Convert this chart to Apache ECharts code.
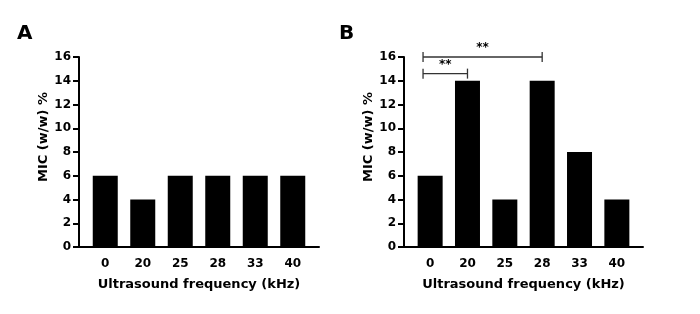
<!DOCTYPE html>
<html>
<head>
<meta charset="utf-8">
<script src="https://cdn.jsdelivr.net/npm/echarts@6/dist/echarts.min.js"></script>
<style>html,body{margin:0;padding:0;background:#fff;}#c{width:700px;height:314px;}</style>
</head>
<body>
<div id="c"></div>
<script>
const categories = ['0', '20', '25', '28', '33', '40'];
const valuesA = [6, 4, 6, 6, 6, 6];
const valuesB = [6, 14, 4, 14, 8, 4];
const yTicks = [0, 2, 4, 6, 8, 10, 12, 14, 16];
const panelLabels = ['A', 'B'];
const xTitle = 'Ultrasound frequency (kHz)';
const yTitle = 'MIC (w/w) %';
// significance comparisons in panel B: [fromIndex, toIndex, level, text]
const bracketFrom = [0, 0];
const bracketTo = [1, 3];
const bracketLevel = [14.6, 16];
const bracketText = ['**', '**'];

const FONT = 'DejaVu Sans';
const chart = echarts.init(document.getElementById('c'), null, {renderer: 'canvas'});

function xAxisDef(idx) {
  return {
    type: 'value', gridIndex: idx, min: -0.7, max: 5.7,
    axisLine: {show: true, onZero: false, lineStyle: {color: '#000', width: 2}},
    axisTick: {show: false},
    splitLine: {show: false},
    axisLabel: {
      customValues: categories.map((c, i) => i),
      formatter: v => categories[Math.round(v)],
      color: '#000', fontFamily: FONT, fontWeight: 'bold', fontSize: 12, margin: 11
    },
    name: xTitle, nameLocation: 'middle', nameGap: 31,
    nameTextStyle: {color: '#000', fontFamily: FONT, fontWeight: 'bold', fontSize: 13}
  };
}
function yAxisDef(idx) {
  return {
    type: 'value', gridIndex: idx, position: 'left',
    min: yTicks[0], max: yTicks[yTicks.length - 1], interval: 2,
    axisLine: {show: true, onZero: false, lineStyle: {color: '#000', width: 2}},
    axisTick: {show: true, inside: false, length: 6, lineStyle: {color: '#000', width: 2}},
    splitLine: {show: false},
    axisLabel: {color: '#000', fontFamily: FONT, fontWeight: 'bold', fontSize: 12, margin: 8},
    name: yTitle, nameLocation: 'middle', nameGap: 28, nameRotate: 90,
    nameTextStyle: {color: '#000', fontFamily: FONT, fontWeight: 'bold', fontSize: 13, padding: [0, 0, 0, 30]}
  };
}

const bracketData = bracketFrom.map((f, i) => [f - 0.19, bracketTo[i], bracketLevel[i], bracketText[i]]);

const option = {
  animation: false,
  title: [
    {text: panelLabels[0], left: 12, top: 19, textStyle: {fontFamily: FONT, fontWeight: 'bold', fontSize: 20, color: '#000'}},
    {text: panelLabels[1], left: 334, top: 19, textStyle: {fontFamily: FONT, fontWeight: 'bold', fontSize: 20, color: '#000'}}
  ],
  grid: [
    {left: 79, width: 240, top: 57, height: 190},
    {left: 404, width: 239, top: 57, height: 190}
  ],
  xAxis: [xAxisDef(0), xAxisDef(1)],
  yAxis: [yAxisDef(0), yAxisDef(1)],
  series: [
    {type: 'bar', xAxisIndex: 0, yAxisIndex: 0, barWidth: 25,
     itemStyle: {color: '#000'}, data: valuesA.map((v, i) => [i, v])},
    {type: 'bar', xAxisIndex: 1, yAxisIndex: 1, barWidth: 25,
     itemStyle: {color: '#000'}, data: valuesB.map((v, i) => [i, v])},
    {type: 'custom', xAxisIndex: 1, yAxisIndex: 1, clip: false,
     encode: {x: [0, 1], y: 2},
     data: bracketData,
     renderItem: function (params, api) {
       const p1 = api.coord([api.value(0), api.value(2)]);
       const p2 = api.coord([api.value(1), api.value(2)]);
       const st = {stroke: '#333', lineWidth: 1.3};
       const h = 5;
       return {
         type: 'group',
         children: [
           {type: 'line', shape: {x1: p1[0], y1: p1[1], x2: p2[0], y2: p2[1]}, style: st},
           {type: 'line', shape: {x1: p1[0], y1: p1[1] - h, x2: p1[0], y2: p1[1] + h}, style: st},
           {type: 'line', shape: {x1: p2[0], y1: p2[1] - h, x2: p2[0], y2: p2[1] + h}, style: st},
           {type: 'text', x: (p1[0] + p2[0]) / 2, y: p1[1] - 3,
            style: {text: bracketText[params.dataIndex], fill: '#000', font: 'bold 12px ' + FONT,
                    align: 'center', verticalAlign: 'bottom'}}
         ]
       };
     }}
  ]
};
chart.setOption(option);
</script>
</body>
</html>
